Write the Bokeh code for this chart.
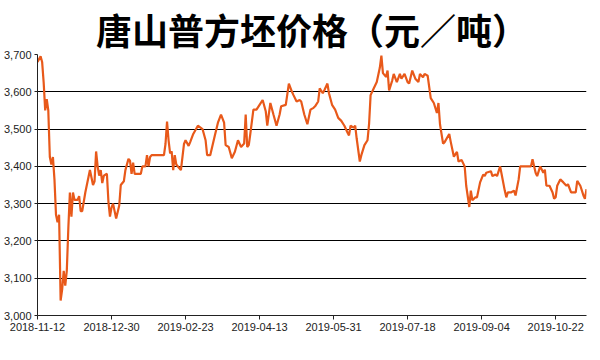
from bokeh.plotting import figure
from bokeh.models import FixedTicker, Title, Range1d, NumeralTickFormatter
from bokeh.embed import file_html
from bokeh.resources import INLINE

title_text = "唐山普方坯价格（元／吨）"

tick_positions = [0, 48, 96, 144, 192, 240, 288, 336]
tick_labels = ["2018-11-12", "2018-12-30", "2019-02-23", "2019-04-13",
               "2019-05-31", "2019-07-18", "2019-09-04", "2019-10-22"]

day_index = [0, 2, 3, 4, 5, 6, 7, 8, 9, 10, 11, 12, 13, 14, 15, 16, 17, 18, 19, 20,
             21, 22, 23, 24, 25, 26, 27, 28, 29, 31, 33, 34, 35, 36, 37, 38, 39, 40, 41, 42,
             43, 45, 46, 47, 48, 49, 50, 51, 53, 54, 56, 57, 59, 60, 61, 62, 63, 67, 68, 70,
             71, 72, 73, 74, 82, 83, 84, 85, 86, 87, 88, 89, 90, 92, 93, 95, 96, 98, 99, 101,
             104, 107, 109, 110, 112, 115, 117, 119, 121, 122, 124, 126, 128, 130, 132, 134, 135, 136, 137, 138,
             140, 142, 144, 146, 148, 149, 151, 153, 155, 157, 158, 161, 163, 165, 166, 168, 170, 171, 173, 175,
             177, 179, 180, 182, 183, 185, 186, 188, 189, 191, 193, 195, 197, 199, 201, 202, 203, 205, 206, 207,
             209, 210, 212, 214, 215, 216, 218, 220, 222, 223, 224, 226, 227, 228, 230, 231, 233, 235, 236, 238,
             240, 241, 243, 245, 247, 248, 250, 251, 253, 255, 257, 259, 260, 261, 263, 264, 267, 268, 270, 272,
             273, 275, 277, 278, 280, 281, 282, 284, 285, 287, 289, 290, 291, 294, 295, 297, 298, 300, 301, 303,
             304, 305, 307, 309, 310, 312, 313, 320, 321, 323, 324, 326, 328, 329, 330, 332, 334, 335, 336, 337,
             339, 341, 343, 344, 346, 349, 350, 352, 354, 355, 356]

price = [3680, 3695, 3680, 3625, 3550, 3580, 3550, 3425, 3405, 3425, 3365, 3270, 3250, 3270, 3040, 3070, 3120, 3080, 3120, 3235,
         3330, 3265, 3330, 3310, 3310, 3310, 3320, 3280, 3280, 3330, 3370, 3390, 3370, 3350, 3360, 3440, 3400, 3375, 3390, 3355,
         3375, 3380, 3305, 3265, 3290, 3300, 3280, 3260, 3295, 3350, 3360, 3390, 3420, 3415, 3380, 3410, 3380, 3380, 3400, 3400,
         3430, 3400, 3425, 3430, 3430, 3460, 3520, 3470, 3435, 3440, 3390, 3430, 3405, 3395, 3390, 3460, 3470, 3455, 3465, 3487,
         3509, 3500, 3470, 3430, 3430, 3483, 3517, 3539, 3517, 3457, 3452, 3422, 3439, 3470, 3452, 3461, 3539, 3452, 3457, 3487,
         3552, 3552, 3565, 3578, 3548, 3509, 3570, 3539, 3509, 3539, 3561, 3565, 3622, 3600, 3591, 3574, 3578, 3574, 3539, 3513,
         3552, 3557, 3561, 3574, 3609, 3596, 3604, 3622, 3596, 3565, 3552, 3530, 3522, 3509, 3491, 3483, 3509, 3504, 3509, 3474,
         3413, 3430, 3457, 3470, 3513, 3591, 3609, 3626, 3665, 3697, 3650, 3640, 3657, 3604, 3630, 3648, 3626, 3648, 3635, 3648,
         3626, 3622, 3657, 3635, 3626, 3648, 3639, 3648, 3643, 3583, 3570, 3543, 3570, 3513, 3461, 3465, 3487, 3465, 3426, 3439,
         3413, 3417, 3400, 3348, 3291, 3335, 3309, 3317, 3317, 3357, 3378, 3374, 3383, 3387, 3374, 3378, 3374, 3400, 3378, 3335,
         3317, 3330, 3330, 3335, 3322, 3365, 3400, 3400, 3419, 3383, 3374, 3400, 3383, 3391, 3348, 3348, 3330, 3313, 3317, 3348,
         3365, 3357, 3348, 3352, 3330, 3330, 3361, 3348, 3322, 3313, 3339]

p = figure(width=588, height=344, output_backend="svg", toolbar_location=None,
           x_range=Range1d(0, 356), y_range=Range1d(3000, 3700),
           min_border_left=36, min_border_right=2, min_border_bottom=29, min_border_top=0)

p.add_layout(Title(text=title_text, align="center", text_font="Noto Sans CJK SC",
                   text_font_size="36px", text_font_style="bold", text_color="black",
                   offset=10, standoff=0), "above")

p.line(day_index, price, line_color="#E8591A", line_width=2.2)

p.outline_line_color = None
p.background_fill_color = "white"
p.border_fill_color = "white"

p.xgrid.grid_line_color = None
p.ygrid.grid_line_color = "black"
p.ygrid.grid_line_width = 1
p.ygrid.ticker = FixedTicker(ticks=list(range(3000, 3701, 100)))

p.yaxis.ticker = FixedTicker(ticks=list(range(3000, 3701, 100)))
p.yaxis.formatter = NumeralTickFormatter(format="0,0")
p.yaxis.axis_line_color = "#222222"
p.yaxis.major_tick_line_color = "#222222"
p.yaxis.major_tick_out = 3
p.yaxis.major_tick_in = 0
p.yaxis.minor_tick_line_color = None
p.yaxis.major_label_standoff = 3

p.xaxis.ticker = FixedTicker(ticks=tick_positions)
p.xaxis.major_label_overrides = {t: l for t, l in zip(tick_positions, tick_labels)}
p.xaxis.axis_line_color = "#222222"
p.xaxis.major_tick_line_color = "#222222"
p.xaxis.major_tick_out = 4
p.xaxis.major_tick_in = 0
p.xaxis.minor_tick_line_color = None
p.xaxis.major_label_standoff = 3

for ax in (p.xaxis, p.yaxis):
    ax.major_label_text_font = "Liberation Sans"
    ax.major_label_text_font_size = "11px"
    ax.major_label_text_color = "#222222"

open("out.html", "w").write(file_html(p, INLINE))
